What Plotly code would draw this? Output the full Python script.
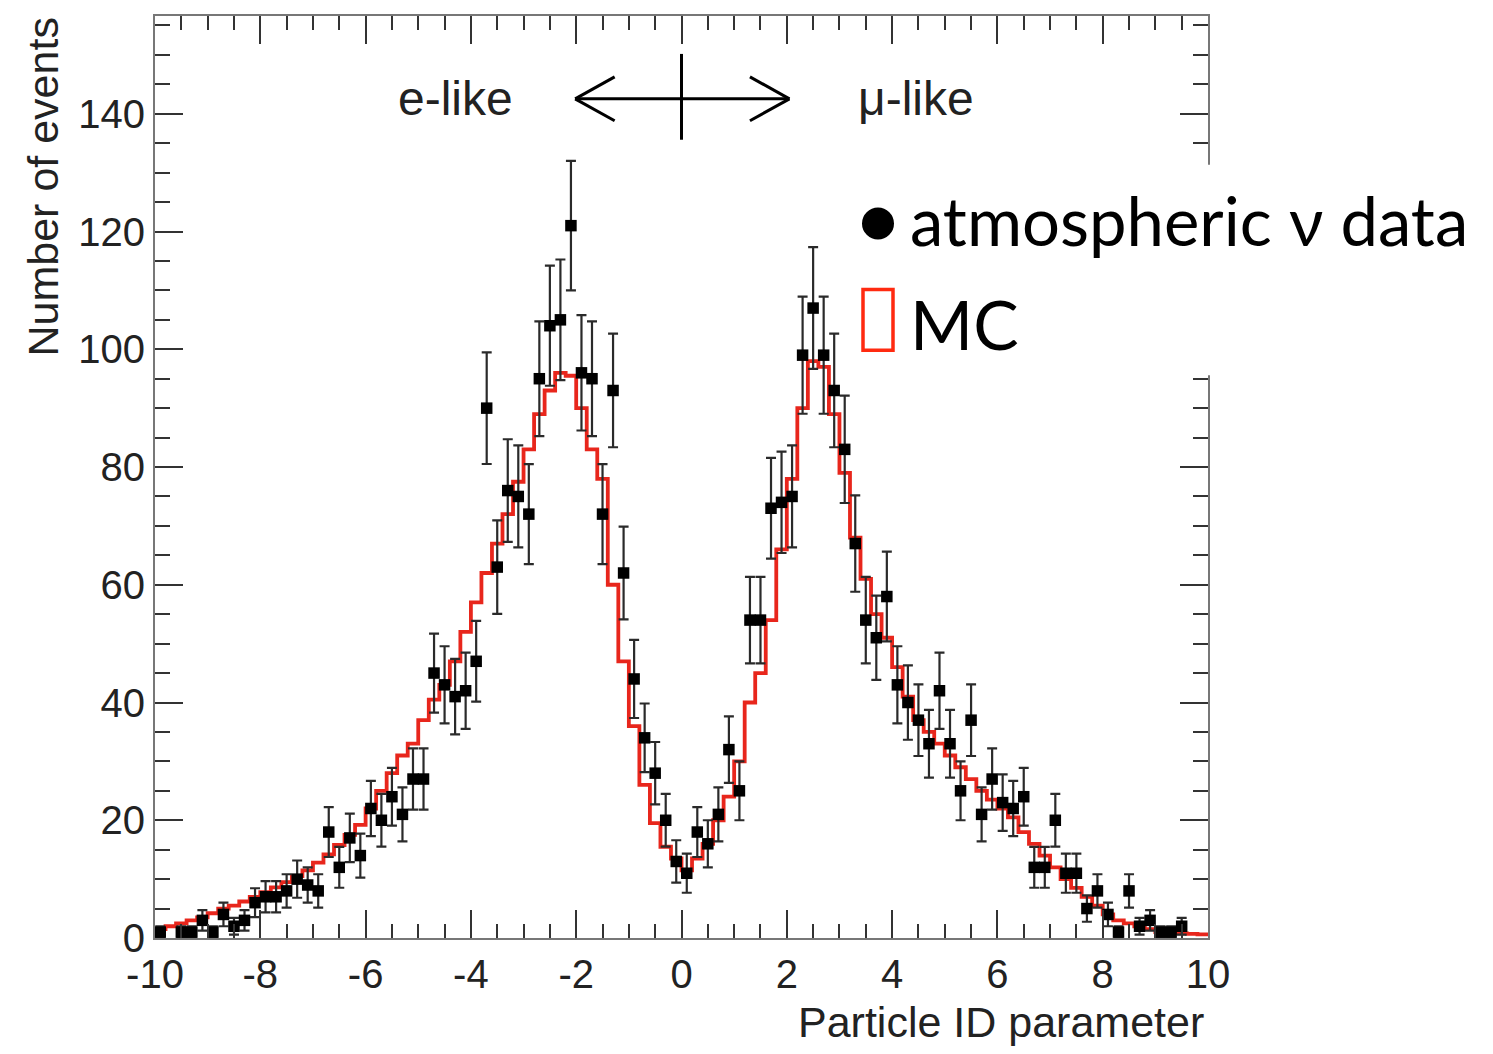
import numpy as np
import plotly.graph_objects as go

# ---------------- data ----------------
x_min, x_max, n_bins = -10.0, 10.0, 100

data_counts = [
    1, 0, 1, 1, 3, 1, 4, 2, 3, 6, 7, 7, 8, 10, 9, 8, 18, 12, 17, 14,
    22, 20, 24, 21, 27, 27, 45, 43, 41, 42, 47, 90, 63, 76, 75, 72, 95, 104, 105, 121,
    96, 95, 72, 93, 62, 44, 34, 28, 20, 13, 11, 18, 16, 21, 32, 25, 54, 54, 73, 74,
    75, 99, 107, 99, 93, 83, 67, 54, 51, 58, 43, 40, 37, 33, 42, 33, 25, 37, 21, 27,
    23, 22, 24, 12, 12, 20, 11, 11, 5, 8, 4, 1, 8, 2, 3, 1, 1, 2, 0, 0,
]

mc_counts = [
    1.5, 2, 2.5, 3, 3.5, 4.2, 5, 5.5, 6.2, 7, 7.8, 8.6, 9.5, 10.5, 11.5, 12.8, 14.2, 15.8, 17.5, 19.2,
    22, 25, 28, 31, 33, 37, 40.5, 43, 47, 52, 57, 62, 67, 72, 77.5, 83, 89, 93, 96, 95.5,
    90, 83, 78, 60, 47, 36, 26, 19.5, 15.5, 13.5, 11.5, 13.5, 16, 20, 24, 30, 40, 45, 54, 66,
    78, 90, 98, 97, 89, 79, 68, 61, 55, 51, 46, 41, 37, 35, 33, 31, 29, 27, 25, 23.5,
    22, 20.5, 18, 16, 14, 12, 10, 8.5, 7, 5.5, 4, 3, 2.5, 2, 1.5, 1, 1, 0.8, 0.7, 0.6,
]

x_tick_vals = [-10, -8, -6, -4, -2, 0, 2, 4, 6, 8, 10]
x_tick_text = ["-10", "-8", "-6", "-4", "-2", "0", "2", "4", "6", "8", "10"]
y_tick_vals = [0, 20, 40, 60, 80, 100, 120, 140]
y_tick_text = ["0", "20", "40", "60", "80", "100", "120", "140"]

legend_labels = ["atmospheric \u03bd data", "MC"]
region_labels = ["e-like", "\u03bc-like"]
x_title = "Particle ID parameter"
y_title = "Number of events"

# ---------------- derived ----------------
edges = np.linspace(x_min, x_max, n_bins + 1)
centers = 0.5 * (edges[:-1] + edges[1:])
d = np.array(data_counts, dtype=float)
mc = np.array(mc_counts, dtype=float)
mask = d > 0

# ---------------- layout geometry (reference pixel frame) ----------------
OFF = 8                      # page body margin
W, H = 1493 - 2 * OFF, 1054 - 2 * OFF
FL, FR, FT, FB = 155, 1208, 14, 938   # frame edges in page pixels
L, T = FL - OFF, FT - OFF
R, B = W - (FR - OFF), H - (FB - OFF)
PW, PH = FR - FL, FB - FT
PX_PER_Y = 5.9
Y_MAX = (FB - FT) / PX_PER_Y


def pxx(xp):
    return (xp - FL) / PW


def pxy(yp):
    return (FB - yp) / PH


def yval(yp):
    return (FB - yp) / PX_PER_Y


RED = "#e8261c"
TICK_FONT = dict(family="Liberation Sans, Arial, sans-serif", size=40, color="#222")
TITLE_FONT = dict(family="Liberation Sans, Arial, sans-serif", size=43, color="#222")
REGION_FONT = dict(family="Liberation Sans, Arial, sans-serif", size=48, color="#222")

fig = go.Figure()

# MC histogram (step)
fig.add_trace(go.Scatter(
    x=np.append(edges[:-1], edges[-1]),
    y=np.append(mc, mc[-1]),
    mode="lines",
    line=dict(color=RED, width=3.8, shape="hv"),
    showlegend=False,
    hoverinfo="skip",
))

# data points with errors
fig.add_trace(go.Scatter(
    x=centers[mask],
    y=d[mask],
    mode="markers",
    marker=dict(symbol="square", size=11.5, color="black"),
    error_y=dict(type="data", array=np.sqrt(d[mask]), color="#2a2a2a",
                 thickness=2.2, width=5),
    showlegend=False,
))

axis_common = dict(
    showline=True, linecolor="#777", linewidth=2, mirror="ticks",
    ticks="inside", tickcolor="#333", tickwidth=2, ticklen=28,
    showgrid=False, zeroline=False, tickfont=TICK_FONT,
)

fig.update_xaxes(range=[x_min, x_max], tickvals=x_tick_vals, ticktext=x_tick_text,
                 minor=dict(dtick=0.5, ticks="inside", ticklen=14, tickcolor="#333", tickwidth=2),
                 **axis_common)
fig.update_yaxes(range=[0, Y_MAX], tickvals=y_tick_vals, ticktext=y_tick_text,
                 minor=dict(dtick=5, ticks="inside", ticklen=15, tickcolor="#333", tickwidth=2),
                 **axis_common)

shapes = []
# double arrow with central mark
ay = yval(97)
arm_hi = yval(75)
arm_lo = yval(119)
line_style = dict(color="black", width=3)
shapes.append(dict(type="line", xref="x", yref="y", x0=-2.02, x1=2.05, y0=ay, y1=ay, line=line_style))
shapes.append(dict(type="line", xref="x", yref="y", x0=0, x1=0,
                   y0=yval(138), y1=yval(52), line=line_style))
for tip, back in ((-2.02, -1.27), (2.05, 1.3)):
    shapes.append(dict(type="line", xref="x", yref="y", x0=tip, x1=back, y0=ay, y1=arm_hi, line=line_style))
    shapes.append(dict(type="line", xref="x", yref="y", x0=tip, x1=back, y0=ay, y1=arm_lo, line=line_style))

# legend box (white, covering frame)
shapes.append(dict(type="rect", xref="paper", yref="paper", layer="above",
                   x0=pxx(852), x1=pxx(1485), y0=pxy(374), y1=pxy(163),
                   fillcolor="white", line=dict(width=0)))
shapes.append(dict(type="circle", xref="paper", yref="paper", layer="above",
                   x0=pxx(862), x1=pxx(894), y0=pxy(238), y1=pxy(206),
                   fillcolor="black", line=dict(color="black", width=0)))
shapes.append(dict(type="rect", xref="paper", yref="paper", layer="above",
                   x0=pxx(863), x1=pxx(893), y0=pxy(349), y1=pxy(288),
                   fillcolor="rgba(0,0,0,0)", line=dict(color="#ff2a10", width=3.5)))

annotations = [
    dict(text=region_labels[0], xref="x", yref="y", x=-4.3, y=ay, showarrow=False,
         xanchor="center", yanchor="middle", font=REGION_FONT),
    dict(text=region_labels[1], xref="x", yref="y", x=4.45, y=ay, showarrow=False,
         xanchor="center", yanchor="middle", font=REGION_FONT),
    dict(text=legend_labels[0], xref="paper", yref="paper", x=pxx(908), y=pxy(218),
         showarrow=False, xanchor="left", yanchor="middle",
         font=dict(family="Lato, Open Sans, sans-serif", size=67, color="black")),
    dict(text=legend_labels[1], xref="paper", yref="paper", x=pxx(908), y=pxy(322),
         showarrow=False, xanchor="left", yanchor="middle",
         font=dict(family="Lato, Open Sans, sans-serif", size=68, color="black")),
    dict(text=x_title, xref="paper", yref="paper", x=pxx(1206), y=pxy(1022),
         showarrow=False, xanchor="right", yanchor="middle", font=TITLE_FONT),
    dict(text=y_title, xref="paper", yref="paper", x=pxx(42), y=pxy(14),
         showarrow=False, xanchor="center", yanchor="top", textangle=-90, font=TITLE_FONT),
]

fig.update_layout(
    width=W, height=H,
    margin=dict(l=L, r=R, t=T, b=B),
    paper_bgcolor="white", plot_bgcolor="white",
    shapes=shapes, annotations=annotations,
    showlegend=False,
)

fig.write_html("out.html")
